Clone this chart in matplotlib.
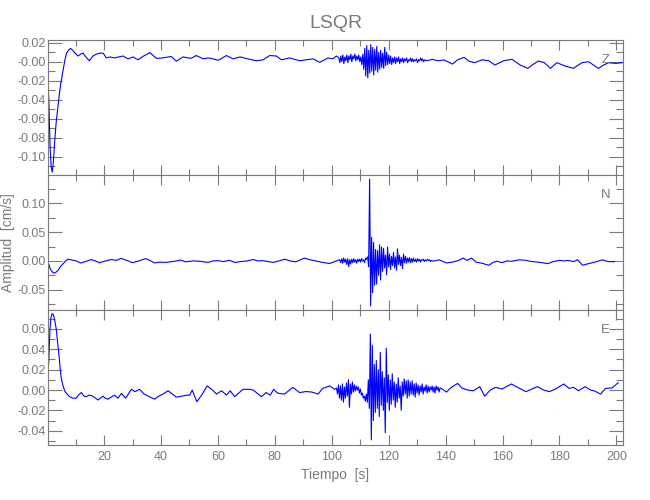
import numpy as np
import matplotlib
matplotlib.use("Agg")
import matplotlib.pyplot as plt
from matplotlib.ticker import MultipleLocator

plt.rcParams['font.family'] = ['Liberation Sans', 'DejaVu Sans']

# ---------------- data ----------------
# Z component
z_pre_t = [0.0, 0.6, 1.0, 1.4, 1.8, 2.2, 2.7, 3.2, 3.8, 4.3, 4.8, 5.6, 6.2, 6.8, 7.5, 8.2,
           9.0, 9.8, 10.9, 11.8, 12.6, 13.6, 14.8, 16.1, 17.3, 18.6, 19.7, 20.8, 22.1, 23.6,
           25.1, 26.7, 28.4, 30.2, 31.9, 33.9, 36.1, 38.4, 40.7, 43.6, 45.4, 47.7, 50.6, 52.4,
           54.8, 56.6, 58.3, 60.1, 63.0, 65.3, 67.8, 70.5, 73.5, 75.9, 78.2, 80.5, 82.3, 85.2,
           88.7, 91.0, 93.4, 95.8, 98.7, 100.4, 101.6]
z_pre = [0.003, -0.040, -0.086, -0.110, -0.116, -0.105, -0.082, -0.063, -0.047, -0.034,
         -0.023, -0.009, 0.001, 0.009, 0.012, 0.014, 0.012, 0.009, 0.006, 0.008, 0.009, 0.005,
         0.001, 0.006, 0.008, 0.009, 0.009, 0.004, 0.005, 0.004, 0.005, 0.006, 0.003, 0.005,
         0.002, 0.006, 0.0095, 0.0035, 0.004, 0.0055, 0.0005, 0.005, 0.0035, 0.0065, 0.003,
         0.004, 0.003, 0.0015, 0.0065, 0.003, 0.005, 0.003, 0.001, 0.002, 0.0065, 0.006,
         0.002, 0.004, 0.001, 0.002, 0.003, -0.0007, 0.004, 0.003, 0.006]
z_burst_start = 102.5
z_burst = [0.004, -0.001, 0.006, 0.000, 0.007, -0.002, 0.005, 0.001, 0.007, -0.001,
           0.006, 0.002, 0.008, 0.000, 0.006, 0.003, 0.008, 0.001, 0.006, 0.002,
           0.007, 0.000, 0.005, -0.003, 0.008, -0.008, 0.014, -0.015, 0.017, -0.017,
           0.012, -0.012, 0.018, -0.010, 0.015, -0.014, 0.013, -0.009, 0.016, -0.011,
           0.010, -0.008, 0.012, -0.006, 0.009, -0.007, 0.015, -0.004, 0.010, -0.003,
           0.007, -0.002, 0.006, -0.003, 0.004, -0.001, 0.005, -0.002, 0.004, 0.000,
           0.005, -0.002, 0.003, 0.000, 0.004, -0.001, 0.003, 0.001, 0.004, -0.001,
           0.002, 0.001, 0.004, 0.000, 0.003, 0.000, 0.002, 0.001, 0.003, -0.001,
           0.002, 0.001, 0.004, 0.001, 0.003, 0.000, 0.002]
z_post_t = [133.2, 135.4, 137.2, 139.5, 142.4, 144.2, 146.5, 148.2, 150.2, 152.8, 155.2,
            157.3, 160.4, 163.3, 166.2, 168.9, 170.6, 172.6, 174.7, 176.8, 179.1, 182.0,
            184.9, 187.9, 190.2, 193.7, 195.5, 197.3, 199.6, 202.2]
z_post = [0.001, 0.0025, 0.001, 0.0018, -0.0025, 0.002, 0.0046, 0.0005, -0.001, 0.002,
          0.001, -0.0035, 0.001, 0.0025, -0.0035, -0.007, -0.003, 0.0007, -0.001, -0.007,
          -0.001, -0.0046, -0.007, -0.001, 0.0, -0.007, -0.0035, -0.001, -0.0018, -0.001]

# N component
n_pre_t = [0.0, 0.6, 1.2, 2.2, 3.0, 3.9, 4.8, 5.6, 6.5, 7.3, 8.5, 10.2, 11.8, 13.5, 15.5,
           17.0, 18.4, 20.5, 22.5, 24.3, 26.0, 28.0, 30.0, 32.2, 34.5, 36.1, 37.7, 39.6,
           41.8, 44.1, 47.0, 48.6, 51.2, 53.7, 56.5, 58.2, 60.0, 62.0, 64.0, 66.0, 68.2,
           70.3, 72.3, 74.1, 75.8, 77.6, 79.4, 81.4, 83.5, 85.4, 87.4, 90.4, 92.4, 94.4,
           96.2, 99.2, 101.6]
n_pre = [0.000, -0.006, -0.015, -0.021, -0.020, -0.016, -0.009, -0.005, 0.000, 0.003,
         0.002, 0.000, -0.0035, -0.001, 0.0025, 0.000, -0.003, 0.000, 0.0025, 0.001, 0.0045,
         0.001, -0.003, 0.000, 0.004, 0.001, -0.0035, -0.002, -0.0025, -0.001, 0.0015,
         -0.0015, 0.000, -0.0005, -0.0025, 0.000, 0.0005, -0.001, 0.001, -0.0025, -0.001,
         0.000, 0.0025, 0.000, 0.0005, -0.001, -0.0025, 0.000, 0.003, 0.000, -0.0015,
         0.005, 0.002, 0.000, -0.002, -0.0045, 0.000]
n_burst_start = 102.8
n_burst = [0.002, -0.003, 0.004, -0.004, 0.005, -0.002, 0.003, -0.006, 0.004, -0.010,
           0.002, -0.005, 0.003, -0.003, 0.004, -0.002, 0.002, -0.004, 0.003, -0.001,
           0.003, -0.002, 0.004, 0.000, 0.002, -0.003, 0.005, 0.003, 0.007, -0.010,
           0.142, -0.078, 0.041, -0.055, 0.032, -0.042, 0.020, -0.040, 0.018, -0.025,
           0.028, -0.033, 0.024, -0.018, 0.022, -0.012, 0.010, -0.024, 0.024, -0.010,
           0.012, -0.015, 0.008, -0.008, 0.015, -0.012, 0.007, -0.016, 0.021, -0.006,
           0.010, -0.008, 0.006, -0.013, 0.012, -0.003, 0.008, -0.004, 0.005, -0.002,
           0.006, -0.003, 0.004, -0.002, 0.005, -0.001, 0.003, -0.002, 0.004, 0.000,
           0.003, -0.002, 0.002, 0.001, 0.003, -0.001, 0.002, 0.000, 0.003, 0.001,
           0.002, -0.001, 0.001, 0.000]
n_post_t = [136.0, 137.7, 140.3, 142.7, 144.5, 146.2, 147.5, 149.1, 150.7, 152.8, 155.2,
            156.8, 158.1, 159.8, 161.5, 163.1, 166.0, 168.3, 170.1, 171.9, 173.9, 175.9,
            177.9, 180.0, 181.9, 182.9, 184.9, 186.4, 188.1, 189.9, 192.4, 195.1, 197.0,
            199.3]
n_post = [0.000, 0.002, -0.0035, -0.0017, 0.001, 0.005, 0.001, 0.005, -0.002, -0.004,
          -0.0075, -0.002, -0.0005, -0.003, 0.000, -0.0005, 0.002, 0.001, -0.001, -0.0017,
          -0.003, -0.0046, -0.001, 0.001, 0.000, 0.001, -0.001, 0.002, -0.0075, -0.005,
          -0.002, 0.002, -0.001, -0.0012]

# E component
e_pre_t = [0.0, 0.6, 1.0, 1.4, 1.7, 2.2, 2.7, 3.2, 3.7, 4.2, 4.6, 5.0, 5.6, 6.2, 7.0, 7.9,
           9.0, 10.2, 11.0, 12.0, 13.0, 13.7, 14.8, 16.0, 17.9, 19.6, 20.4, 21.4, 23.6, 24.9,
           26.1, 27.6, 29.6, 30.9, 32.5, 34.1, 34.8, 36.2, 37.8, 39.2, 40.7, 42.5, 44.0,
           45.4, 47.2, 49.2, 50.1, 51.0, 51.8, 52.6, 54.3, 56.2, 57.8, 59.5, 61.3, 63.0,
           64.3, 65.9, 67.3, 68.8, 70.9, 72.4, 75.3, 76.9, 78.4, 79.6, 80.9, 83.4, 86.3,
           88.7, 91.0, 93.0, 95.2, 96.8, 99.3, 101.0]
e_pre = [0.000, 0.030, 0.060, 0.072, 0.075, 0.074, 0.068, 0.060, 0.047, 0.033, 0.021,
         0.011, 0.004, -0.001, -0.004, -0.0065, -0.008, -0.008, -0.005, -0.0025, -0.006,
         -0.0065, -0.005, -0.006, -0.0098, -0.006, -0.008, -0.009, -0.005, -0.008, -0.0033,
         -0.008, 0.0007, -0.0016, 0.0007, -0.004, -0.005, -0.007, -0.009, -0.006, -0.004,
         -0.0007, -0.004, -0.007, -0.006, -0.005, -0.005, 0.000, -0.006, -0.0115, -0.005,
         0.004, 0.0007, -0.004, -0.0007, -0.005, -0.0007, -0.0065, -0.003, 0.0007, 0.0007,
         0.000, -0.0065, -0.0025, -0.005, 0.0007, -0.003, -0.004, 0.0026, -0.0025, -0.0015,
         -0.002, -0.004, 0.0016, 0.004, 0.0007]
e_burst_start = 101.65
e_burst = [0.002, -0.004, 0.005, -0.008, 0.004, -0.010, 0.006, -0.012, 0.003, -0.008,
           0.007, -0.006, 0.010, -0.017, 0.006, -0.004, 0.008, -0.002, 0.005, -0.001,
           0.004, 0.000, 0.003, -0.003, 0.001, -0.005, -0.003, -0.008, -0.006, -0.011,
           -0.004, -0.012, 0.010, -0.018, 0.055, -0.049, 0.044, -0.030, 0.025, -0.022,
           0.029, -0.018, 0.020, -0.026, 0.037, -0.015, 0.018, -0.020, 0.012, -0.042,
           0.041, -0.012, 0.015, -0.020, 0.010, -0.014, 0.016, -0.010, 0.008, -0.017,
           0.006, -0.012, 0.012, -0.008, 0.004, -0.020, 0.008, -0.006, 0.011, -0.004,
           0.009, -0.008, 0.010, -0.006, 0.008, -0.004, 0.009, -0.005, 0.006, -0.007,
           0.007, -0.003, 0.005, -0.005, 0.004, -0.002, 0.006, -0.004, 0.003, -0.001,
           0.005, -0.003, 0.004, -0.002, 0.003, 0.000, 0.004, -0.002, 0.003, -0.003,
           0.004, 0.000, 0.003, -0.002, 0.002]
e_post_t = [138.8, 140.3, 141.7, 144.2, 145.7, 147.7, 149.7, 152.0, 153.7, 155.7, 157.5,
            159.8, 163.1, 165.3, 168.2, 170.3, 172.2, 174.4, 176.4, 178.4, 181.5, 183.4,
            184.9, 186.7, 189.0, 190.9, 192.4, 194.4, 196.2, 198.5, 200.6]
e_post = [0.001, -0.002, 0.002, 0.0065, 0.002, 0.000, -0.0007, 0.0033, -0.006, 0.000,
          0.0026, 0.001, 0.0059, 0.0026, -0.0016, 0.001, 0.0033, 0.000, -0.0016, 0.0007,
          0.0059, 0.0016, 0.0026, -0.0007, 0.0033, 0.000, -0.001, -0.004, 0.0016, 0.002,
          0.0072]

components = ['Z', 'N', 'E']
y_limits = [(-0.119, 0.0228), (-0.085, 0.149), (-0.054, 0.0786)]
y_major = [0.02, 0.05, 0.02]
y_minor = [0.01, 0.025, 0.01]

def trace(pre_t, pre, burst_start, burst, post_t, post):
    # burst samples are evenly spaced at 0.35 s
    burst_t = burst_start + 0.35 * np.arange(len(burst))
    t = np.concatenate([pre_t, burst_t, post_t])
    v = np.concatenate([pre, burst, post])
    return t, v

traces = [
    trace(z_pre_t, z_pre, z_burst_start, z_burst, z_post_t, z_post),
    trace(n_pre_t, n_pre, n_burst_start, n_burst, n_post_t, n_post),
    trace(e_pre_t, e_pre, e_burst_start, e_burst, e_post_t, e_post),
]

# ---------------- figure ----------------
gray = '#7a7a7a'
fig = plt.figure(figsize=(6.5, 5), dpi=100)
left, width, height = 0.0738, 0.8846, 0.27
bottoms = [0.65, 0.38, 0.11]

for i, comp in enumerate(components):
    ax = fig.add_axes([left, bottoms[i], width, height])
    t, v = traces[i]
    ax.plot(t, v, color='#0000ff', lw=0.8)
    ax.set_xlim(0.3, 202.3)
    ax.set_ylim(*y_limits[i])
    ax.xaxis.set_major_locator(MultipleLocator(20))
    ax.xaxis.set_minor_locator(MultipleLocator(10))
    ax.yaxis.set_major_locator(MultipleLocator(y_major[i]))
    ax.yaxis.set_minor_locator(MultipleLocator(y_minor[i]))
    ax.yaxis.set_major_formatter(plt.FormatStrFormatter('%.2f'))
    ax.tick_params(which='both', direction='in', top=True, right=True,
                   color=gray, labelcolor=gray, labelsize=9, width=0.8)
    ax.tick_params(axis='y', which='major', length=10, pad=1.5)
    ax.tick_params(axis='y', which='minor', length=5)
    ax.tick_params(axis='x', which='major', length=7, pad=4)
    ax.tick_params(axis='x', which='minor', length=4)
    for s in ax.spines.values():
        s.set_color(gray)
        s.set_linewidth(0.8)
    if i < 2:
        ax.tick_params(axis='x', labelbottom=False)
    else:
        ax.set_xlabel('Tiempo  [s]', color=gray, fontsize=10, labelpad=4)
    ax.text(0.97, 0.85, comp, transform=ax.transAxes, ha='center', va='center',
            color=gray, fontsize=9.5)

fig.text(0.5162, 0.953, 'LSQR', ha='center', va='center', color=gray, fontsize=14)
fig.text(0.0123, 0.515, 'Amplitud  [cm/s]', rotation=90, ha='center', va='center',
         color=gray, fontsize=10)

fig.savefig('out.png', dpi=100)
